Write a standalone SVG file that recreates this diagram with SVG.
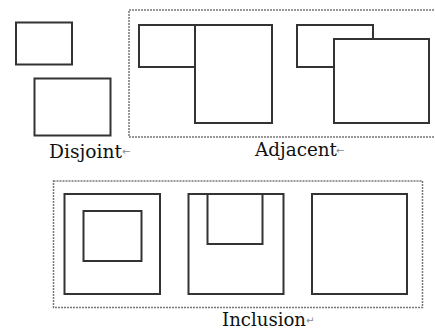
<svg xmlns="http://www.w3.org/2000/svg" width="435" height="329" viewBox="0 0 435 329">
  <style>
    .box { fill: #fff; stroke: #333; stroke-width: 2; }
    .group { fill: none; stroke: #777; stroke-width: 1.5; stroke-dasharray: 2 1; }
    .label { font-family: "DejaVu Serif", "Liberation Serif", serif; font-size: 18px; fill: #111; }
    .mark { font-family: "DejaVu Sans", sans-serif; font-size: 10px; fill: #888; }
  </style>
  <rect width="435" height="329" fill="#fff"/>

  <!-- group frames -->
  <g id="frames">
    <rect class="group" x="129" y="10" width="320" height="127"/>
    <rect class="group" x="53.5" y="181" width="369" height="126.5"/>
  </g>

  <!-- Disjoint -->
  <g id="disjoint">
    <rect class="box" x="16" y="22.5" width="56" height="42"/>
    <rect class="box" x="34.5" y="78.5" width="76" height="57"/>
    <text class="label" x="49" y="157.5" textLength="73" lengthAdjust="spacingAndGlyphs">Disjoint</text>
    <text class="mark" x="122" y="155">←</text>
  </g>

  <!-- Adjacent -->
  <g id="adjacent-side">
    <rect class="box" x="139" y="25" width="56" height="42"/>
    <rect class="box" x="195" y="25" width="77" height="98"/>
  </g>
  <g id="adjacent-overlap">
    <rect class="box" x="297" y="25" width="76" height="42"/>
    <rect class="box" x="334" y="39" width="95" height="84"/>
  </g>
  <g id="adjacent-label">
    <text class="label" x="255" y="156" textLength="82" lengthAdjust="spacingAndGlyphs">Adjacent</text>
    <text class="mark" x="336" y="154">←</text>
  </g>

  <!-- Inclusion -->
  <g id="inclusion-inner">
    <rect class="box" x="64.5" y="194" width="95.5" height="100"/>
    <rect class="box" x="83.5" y="211" width="58" height="50"/>
  </g>
  <g id="inclusion-touching">
    <rect class="box" x="188.5" y="194" width="95" height="100"/>
    <rect class="box" x="207.5" y="194" width="55" height="50"/>
  </g>
  <g id="inclusion-equal">
    <rect class="box" x="312" y="194" width="95" height="100"/>
  </g>
  <g id="inclusion-label">
    <text class="label" x="222" y="326" textLength="84" lengthAdjust="spacingAndGlyphs">Inclusion</text>
    <text class="mark" x="306" y="324">↵</text>
  </g>
</svg>
